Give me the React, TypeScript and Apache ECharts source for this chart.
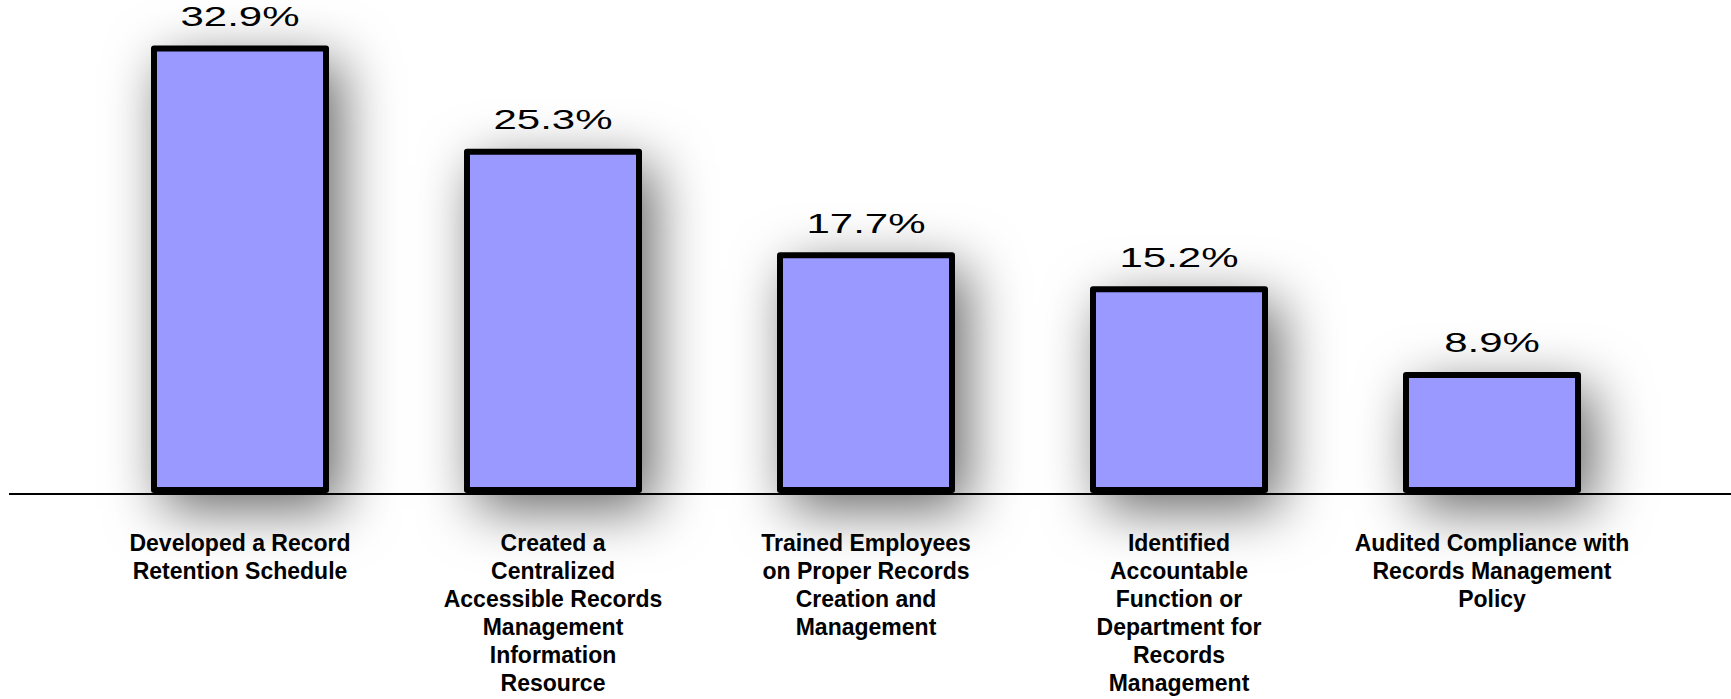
import React, { useEffect, useRef } from "react";
import * as echarts from "echarts";

const categories: string[] = [
  "Developed a Record\nRetention Schedule",
  "Created a\nCentralized\nAccessible Records\nManagement\nInformation\nResource",
  "Trained Employees\non Proper Records\nCreation and\nManagement",
  "Identified\nAccountable\nFunction or\nDepartment for\nRecords\nManagement",
  "Audited Compliance with\nRecords Management\nPolicy",
];

const values: number[] = [32.9, 25.3, 17.7, 15.2, 8.9];

const FONT = "'Liberation Sans', Arial, Helvetica, sans-serif";

export default function App() {
  const ref = useRef<HTMLDivElement>(null);

  useEffect(() => {
    if (!ref.current) return;
    const chart = echarts.init(ref.current, undefined, { renderer: "svg" });
    chart.setOption({
      animation: false,
      backgroundColor: "#ffffff",
      grid: { left: 83.5, right: 82.5, top: 6, bottom: 206 },
      xAxis: {
        type: "category",
        data: categories,
        axisLine: { show: false },
        axisTick: { show: false },
        axisLabel: {
          interval: 0,
          margin: 36,
          fontFamily: FONT,
          fontSize: 23,
          fontWeight: "bold",
          lineHeight: 28,
          color: "#000",
          align: "center",
        },
      },
      yAxis: {
        type: "value",
        min: 0,
        max: 35.8,
        show: false,
        splitLine: { show: false },
      },
      series: [
        {
          type: "bar",
          data: values,
          barWidth: 178,
          itemStyle: {
            color: "#9999FF",
            borderColor: "#000000",
            borderWidth: 6,
            borderJoin: "round",
            shadowColor: "rgba(0,0,0,0.6)",
            shadowBlur: 55,
            shadowOffsetX: 12,
            shadowOffsetY: 16,
          },
          z: 2,
        },
        {
          type: "custom",
          data: values.map((v, i) => [i, v]),
          z: 5,
          renderItem: (params: any, api: any) => {
            const pt = api.coord([api.value(0), api.value(1)]);
            const v = api.value(1) as number;
            return {
              type: "text",
              x: pt[0],
              y: pt[1] - 29,
              scaleX: 1.5,
              style: {
                text: v.toFixed(1) + "%",
                align: "center",
                verticalAlign: "middle",
                fontSize: 28,
                fontFamily: FONT,
                fill: "#000",
              },
            };
          },
        },
      ],
      graphic: [
        {
          type: "line",
          z: 100,
          shape: { x1: 9, y1: 494, x2: 1731, y2: 494 },
          style: { stroke: "#000", lineWidth: 2 },
        },
      ],
    });
    return () => chart.dispose();
  }, []);

  return (
    <div
      ref={ref}
      style={{ position: "fixed", left: 0, top: 0, width: 1731, height: 699 }}
    />
  );
}
